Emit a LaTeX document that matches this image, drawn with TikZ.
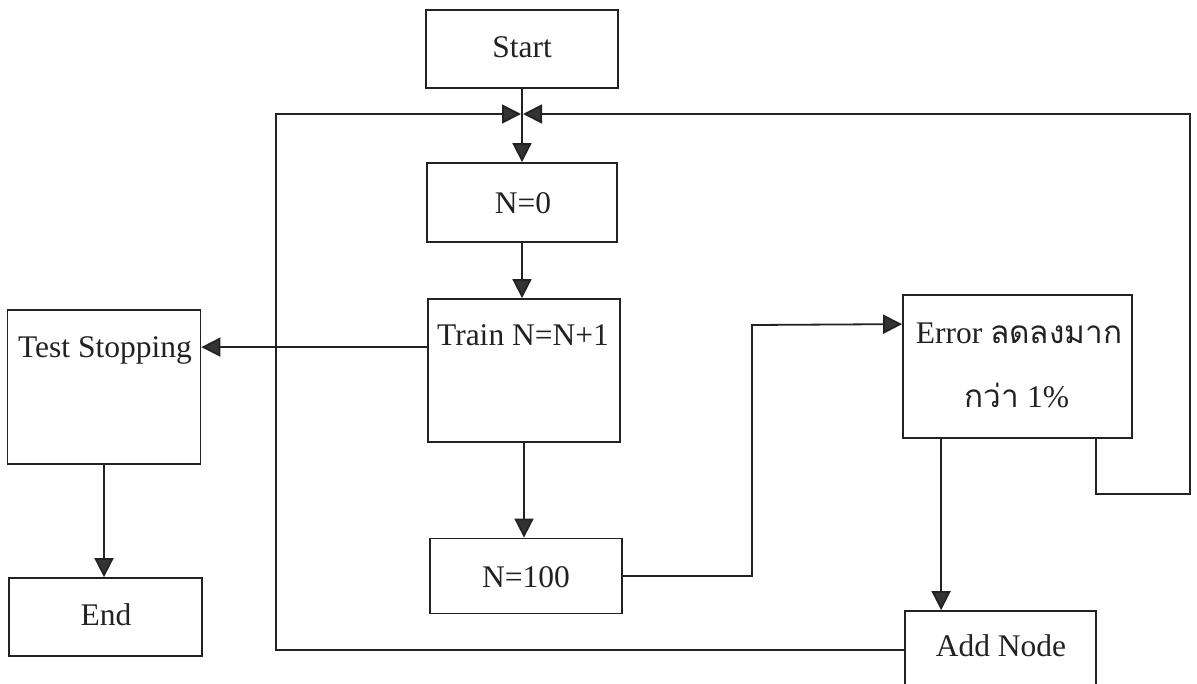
\documentclass[tikz,border=0pt]{standalone}
\usepackage{fontspec}
\setmainfont{Liberation Serif}
\newfontfamily\thaifont[Script=Thai]{Loma}
\usetikzlibrary{arrows.meta,calc}
\definecolor{ink}{HTML}{222222}
\definecolor{tipc}{HTML}{333333}
\tikzset{
  box/.style={draw=ink, line width=1.8pt, rectangle, inner sep=0pt},
  txt/.style={anchor=base, inner sep=0pt, text=ink, font=\fontsize{31.5}{37}\selectfont},
  conn/.style={draw=ink, line width=1.8pt},
  arr/.style={conn, -{Triangle[length=19pt,width=19pt,fill=tipc]}},
}
\begin{document}
\begin{tikzpicture}[x=1pt,y=-1pt]
\useasboundingbox (0,0) rectangle (1197,683);
\clip (0,0) rectangle (1197,683);
% boxes
\node[box, minimum width=192pt, minimum height=78pt]  (start) at (522,49) {};
\node[box, minimum width=190pt, minimum height=79pt]  (n0)    at (522,202.5) {};
\node[box, minimum width=192pt, minimum height=143pt] (train) at (524,370.5) {};
\node[box, minimum width=193pt, minimum height=154pt] (test)  at (104,387) {};
\node[box, minimum width=193pt, minimum height=78pt]  (endb)  at (105.5,617) {};
\node[box, minimum width=192pt, minimum height=75pt]  (n100)  at (526,576) {};
\node[box, minimum width=229pt, minimum height=143pt] (err)   at (1017.5,366.5) {};
\node[box, minimum width=191pt, minimum height=78pt]  (add)   at (1000.5,650) {};
% texts
\node[txt] (tstart) at (522,57) {Start};
\node[txt] (tn0)    at (523,213) {N=0};
\node[txt] (ttrain) at (523,345) {Train N=N+1};
\node[txt] (ttest)  at (105,357) {Test Stopping};
\node[txt] (tend)   at (106,625) {End};
\node[txt] (tn100)  at (526,587) {N=100};
\node[txt] (terr1)  at (1019,343) {Error {\thaifont ลดลงมาก}};
\node[txt] (terr2)  at (1017,407) {{\thaifont กว่า} 1\%};
\node[txt] (tadd)   at (1001,656) {Add Node};
% junction and loop corners
\coordinate (J)  at (522,114);
\coordinate (cl) at (276,114);
\coordinate (cr) at (1190,114);
\coordinate (ex) at (752,325);
% connectors
\draw[conn] (start.south) -- (J);
\draw[arr]  (J) -- (J |- n0.north);
\draw[arr]  (n0.south) -- (n0.south |- train.north);
\draw[arr]  ([yshift=-49pt]train.north west) -- ([yshift=-49pt]train.north west -| test.east);
\draw[arr]  (test.south) -- (test.south |- endb.north);
\draw[arr]  (train.south) -- (train.south |- n100.north);
\draw[arr]  (n100.east) -| (ex) -- ([yshift=-30pt]err.north west);
\draw[arr]  ([xshift=39pt]err.south west) -- ([xshift=39pt]err.south west |- add.north);
\draw[arr]  ([xshift=-37pt]err.south east) -- ++(0,55) -| (cr) -- ([xshift=1pt]J);
\draw[arr]  (add.west) -| (cl) -- ([xshift=-1pt]J);
\end{tikzpicture}
\end{document}
